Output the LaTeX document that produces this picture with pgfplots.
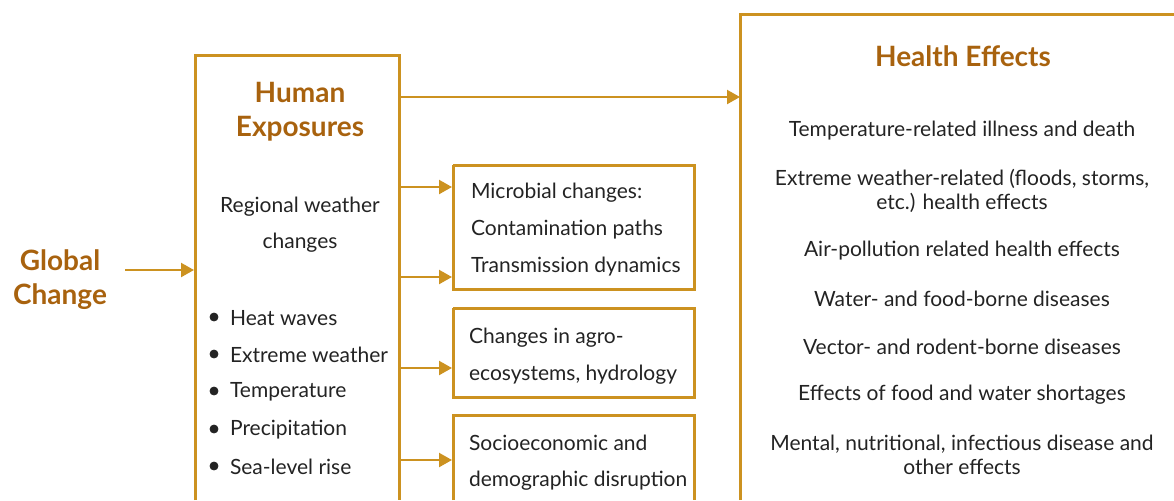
\documentclass[border=0pt]{standalone}
\usepackage{pgfplots}
\pgfplotsset{compat=1.18}
\usepackage{fontspec}
\setmainfont{Lato}
\usetikzlibrary{arrows.meta}
\definecolor{gold}{RGB}{204,146,32}
\definecolor{brown}{RGB}{168,98,14}
\definecolor{txt}{RGB}{35,35,35}
\begin{document}
\begin{tikzpicture}
\begin{axis}[
  width=587pt, height=250pt, scale only axis,
  xmin=0, xmax=1174, ymin=0, ymax=500, y dir=reverse,
  hide axis, clip=false,
  box/.style={gold, line width=1.5pt, line join=miter},
  arr/.style={gold, line width=1.1pt, -{Triangle[length=6.5pt,width=7pt]}},
]
% boxes
\addplot[box] coordinates {(195,500) (195,55) (399,55) (399,500)};
\addplot[box] coordinates {(740,500) (740,14) (1174,14)};
\addplot[box] coordinates {(453,165) (694,165) (694,289) (453,289) (453,165)};
\addplot[box] coordinates {(453,308) (694,308) (694,397) (453,397) (453,308)};
\addplot[box] coordinates {(453,500) (453,415) (694,415) (694,500)};
% arrows
\addplot[arr] coordinates {(125,270) (194,270)};
\addplot[arr] coordinates {(399,97) (740,97)};
\addplot[arr] coordinates {(399,187) (452,187)};
\addplot[arr] coordinates {(399,277) (452,277)};
\addplot[arr] coordinates {(399,368) (452,368)};
\addplot[arr] coordinates {(399,460) (452,460)};
% bullets
\addplot[only marks, mark=*, mark size=2pt, color=txt] coordinates {(214,317) (214,354) (214,391) (214,429) (214,466)};
% titles
\begin{scope}[every node/.style={font=\fontsize{14}{16}\selectfont\bfseries, text=brown, yshift=-0.5pt}]
\node at (60,259) {Global};
\node at (60,296) {Change};
\node at (300,91) {Human};
\node at (300,128) {Exposures};
\node at (963,55) {Health Effects};
\end{scope}
% body text
\begin{scope}[every node/.style={font=\fontsize{10.5}{12.5}\selectfont, text=txt, yshift=-1pt}]
\node at (300,205) {Regional weather};
\node at (300,241) {changes};
\node[anchor=west] at (223,316) {Heat waves};
\node[anchor=west] at (223,353) {Extreme weather};
\node[anchor=west] at (223,390) {Temperature};
\node[anchor=west] at (223,428) {Precipitation};
\node[anchor=west] at (223,465) {Sea-level rise};
\node[anchor=west] at (464,191) {Microbial changes:};
\node[anchor=west] at (464,228) {Contamination paths};
\node[anchor=west] at (464,265) {Transmission dynamics};
\node[anchor=west] at (462,336) {Changes in agro-};
\node[anchor=west] at (462,373) {ecosystems, hydrology};
\node[anchor=west] at (462,441) {Socioeconomic and};
\node[anchor=west] at (462,479) {demographic disruption};
\node at (962,129) {Temperature-related illness and death};
\node[align=center, font=\fontsize{10.5}{12}\selectfont] at (962,189) {Extreme weather-related (floods, storms,\\ etc.) health effects};
\node at (962,249) {Air-pollution related health effects};
\node at (962,297) {Water- and food-borne diseases};
\node at (962,345) {Vector- and rodent-borne diseases};
\node at (962,393) {Effects of food and water shortages};
\node[align=center, font=\fontsize{10.5}{12}\selectfont] at (962,453) {Mental, nutritional, infectious disease and\\ other effects};
\end{scope}
\coordinate (sw) at (0,500);
\coordinate (ne) at (1174,0);
\end{axis}
\pgfresetboundingbox
\useasboundingbox (sw) rectangle (ne);
\end{tikzpicture}
\end{document}
